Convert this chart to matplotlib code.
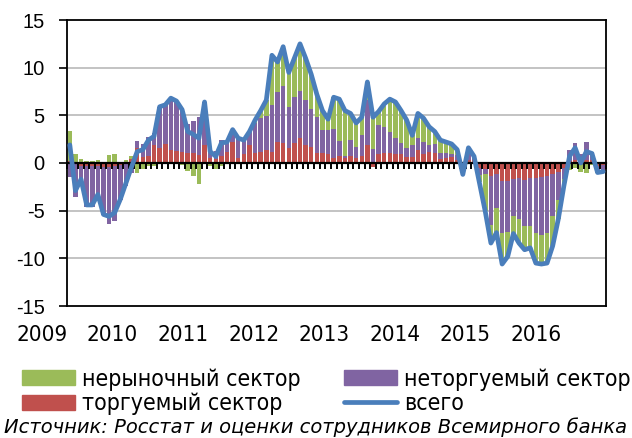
import matplotlib
matplotlib.use("Agg")
import matplotlib.pyplot as plt
from matplotlib.patches import Patch
from matplotlib.lines import Line2D
from matplotlib.transforms import blended_transform_factory
import numpy as np

plt.rcParams['axes.unicode_minus'] = False

# Monthly contributions, Jan 2009 .. Dec 2016
tradable = [0.2, -0.1, -0.3, -0.3, -0.3, -0.3, -0.4, -0.4, -0.3, -0.2, -0.1, 0.4,
            1.6, 0.6, 0.7, 1.9, 1.6, 2.0, 1.4, 1.3, 1.2, 1.1, 1.0, 0.8,
            1.9, 0.5, 0.4, 0.7, 1.2, 2.2, 0.5, 0.9, 1.9, 1.0, 1.2, 1.4,
            1.2, 2.2, 2.1, 1.6, 2.1, 2.6, 1.9, 1.7, 1.0, 1.0, 0.9, 0.5,
            0.7, 0.5, 0.7, 0.5, 0.7, 1.9, -0.4, 0.9, 1.0, 1.0, 0.9, 0.9,
            0.6, 0.6, 1.4, 0.9, 1.2, 1.0, 0.4, 0.5, 0.6, 0.3, -0.3, 0.3,
            0.4, -0.5, -0.6, -1.4, -1.2, -1.9, -1.9, -1.7, -1.6, -1.8, -1.6, -1.6,
            -1.5, -1.4, -1.2, -0.9, -0.5, 0.2, 0.3, 0.1, 0.3, 0.3, -0.3, -0.2]
nontradable = [-1.5, -3.5, -1.8, -4.3, -4.3, -3.3, -5.1, -6.0, -5.8, -3.7, -2.3, -1.0,
               0.7, 1.4, 2.0, 1.2, 4.3, 4.1, 5.4, 5.2, 4.6, 3.0, 3.4, 4.0,
               4.5, 1.0, 0.9, 1.7, 1.0, 1.3, 2.1, 1.5, 1.4, 3.2, 3.5, 3.5,
               4.9, 5.2, 6.0, 4.3, 4.8, 5.0, 4.7, 4.0, 3.8, 2.5, 2.6, 3.1,
               1.6, 0.2, 1.7, 1.2, 2.2, 4.7, 1.5, 3.1, 2.8, 2.3, 1.7, 1.2,
               1.0, 1.3, 1.2, 1.3, 0.7, 1.0, 0.6, 0.5, 0.3, 0.5, -0.5, 0.7,
               0.3, -0.8, -0.6, -5.1, -3.5, -5.4, -5.3, -3.9, -4.3, -4.8, -5.0, -5.7,
               -6.0, -5.9, -4.4, -3.0, -1.2, 1.2, 1.8, 0.8, 1.9, 0.9, -0.5, -0.5]
nonmarket = [3.2, 0.9, 0.4, 0.2, 0.2, 0.3, 0.1, 0.8, 0.9, 0.1, 0.3, 0.3,
             -1.1, -0.6, -0.3, -0.3, 0.0, 0.0, 0.0, 0.0, -0.2, -0.8, -1.4, -2.2,
             0.0, -0.3, -0.6, -0.3, 0.0, 0.0, 0.0, 0.0, 0.0, 0.3, 0.8, 1.7,
             5.2, 3.2, 4.1, 3.6, 4.1, 4.9, 4.4, 3.6, 2.4, 2.0, 1.1, 3.3,
             4.4, 4.8, 2.8, 2.5, 1.9, 1.9, 3.7, 1.4, 2.4, 3.4, 3.8, 3.4,
             2.9, 1.0, 2.6, 2.5, 1.9, 1.3, 1.4, 1.2, 1.1, 0.6, -0.4, 0.6,
             0.0, -0.7, -3.8, -1.9, -2.6, -3.3, -2.6, -1.9, -2.4, -2.4, -2.4, -3.2,
             -3.1, -3.2, -3.1, -2.0, -0.7, -0.7, -0.5, -0.9, -1.0, -0.2, -0.2, -0.2]
total = [1.9, -2.9, -1.7, -4.4, -4.4, -3.3, -5.4, -5.6, -5.2, -3.8, -2.1, -0.4,
         1.2, 1.4, 2.4, 2.8, 5.9, 6.1, 6.8, 6.5, 5.6, 3.3, 3.0, 2.6,
         6.4, 1.2, 0.7, 2.1, 2.2, 3.5, 2.6, 2.4, 3.3, 4.5, 5.5, 6.6,
         11.3, 10.6, 12.2, 9.5, 11.0, 12.5, 11.0, 9.3, 7.2, 5.5, 4.6, 6.9,
         6.7, 5.5, 5.2, 4.2, 4.8, 8.5, 4.8, 5.4, 6.2, 6.7, 6.4, 5.5,
         4.5, 2.9, 5.2, 4.7, 3.8, 3.3, 2.4, 2.2, 2.0, 1.4, -1.2, 1.6,
         0.7, -2.2, -5.1, -8.4, -7.3, -10.6, -9.8, -7.4, -8.4, -9.1, -8.9, -10.5,
         -10.6, -10.5, -8.7, -5.9, -2.4, 0.7, 1.6, 0.0, 1.2, 1.0, -1.0, -0.9]

year_labels = ['2009', '2010', '2011', '2012', '2013', '2014', '2015', '2016']
y_ticks = [-15, -10, -5, 0, 5, 10, 15]
y_labels = ['-15', '-10', '-5', '0', '5', '10', '15']

series_names = ['торгуемый сектор', 'неторгуемый сектор', 'нерыночный сектор']
series_colors = ['#C0504D', '#8064A2', '#9BBB59']
line_name = 'всего'
line_color = '#4A7EBB'
source_text = 'Источник: Росстат и оценки сотрудников Всемирного банка'

TXT = ['DejaVu Sans']

fig = plt.figure(figsize=(6.32, 4.38), dpi=100)
ax = fig.add_axes([67/632, 1-306/438, (606-67)/632, (306-20)/438])

n = len(total)
x = np.arange(n)
pos_base = np.zeros(n)
neg_base = np.zeros(n)
for vals, col in zip([tradable, nontradable, nonmarket], series_colors):
    v = np.array(vals)
    bottom = np.where(v >= 0, pos_base, neg_base)
    ax.bar(x, v, bottom=bottom, width=0.8, color=col, linewidth=0, zorder=2)
    pos_base = pos_base + np.where(v > 0, v, 0)
    neg_base = neg_base + np.where(v < 0, v, 0)

ax.plot(x, total, color=line_color, lw=3.4, solid_joinstyle='round',
        solid_capstyle='round', zorder=5)

for g in [-10, -5, 5, 10]:
    ax.axhline(g, color='#BEBEBE', lw=1.3, zorder=1)

ax.set_yticks(y_ticks)
ax.set_yticklabels(y_labels, fontfamily='Liberation Sans', fontsize=14.5)
ax.tick_params(axis='y', length=6, width=1.2, pad=10, color='black')
ax.set_xticks([])

ax.set_xlim(-0.5, n - 0.5)
ax.set_ylim(-15, 15)

# year labels (placed like the reference's category labels)
trans = blended_transform_factory(ax.transData, ax.transAxes)
year_pos = [-4.95 + 12.56 * k for k in range(len(year_labels))]
for p, lab in zip(year_pos, year_labels):
    ax.text(p, -0.102, lab, transform=trans, ha='center', va='center',
            fontsize=16, family=TXT, fontstretch='condensed', clip_on=False)

for s in ax.spines.values():
    s.set_color('black')
    s.set_linewidth(1.3)

sec = ax.secondary_xaxis(0.5)
sec.set_xticks(np.arange(-0.5, n, 1.0))
sec.tick_params(axis='x', direction='in', length=4, width=1.4, labeltop=False,
                labelbottom=False, color='black')
sec.spines['top'].set_linewidth(1.6)
sec.spines['top'].set_color('black')
sec.set_zorder(4)

handles = [Patch(color=series_colors[2], label=series_names[2]),
           Patch(color=series_colors[0], label=series_names[0]),
           Patch(color=series_colors[1], label=series_names[1]),
           Line2D([0], [0], color=line_color, lw=3.4, solid_capstyle='round',
                  label=line_name)]
leg = fig.legend(handles=handles, ncol=2, loc='upper left',
                 bbox_to_anchor=(22/632, 1-368/438), frameon=False,
                 prop={'family': TXT, 'size': 16.6, 'stretch': 'condensed'},
                 handlelength=2.3, handleheight=0.62, handletextpad=0.3,
                 columnspacing=1.9, labelspacing=0.05, borderpad=0,
                 borderaxespad=0)

fig.text(316/632, 1-427/438, source_text, ha='center', va='center',
         fontsize=14, style='italic', family=TXT)

fig.savefig('out.png', dpi=100)
